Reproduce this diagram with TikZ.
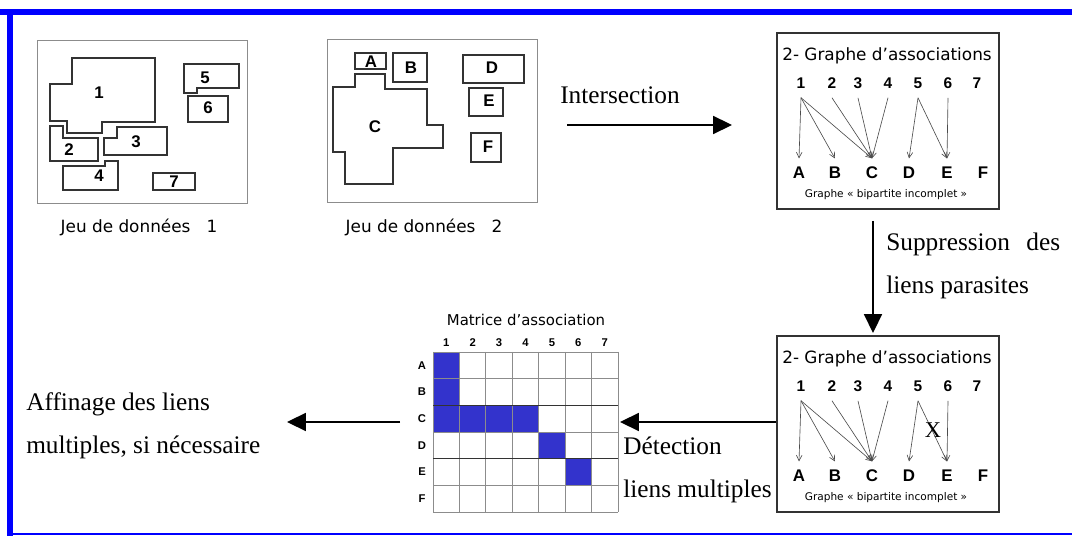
\documentclass[tikz,border=0pt]{standalone}
\usepackage{fontspec}
\setmainfont{Liberation Serif}
\newfontfamily\verdana{DejaVu Sans}
\newfontfamily\arial{Liberation Sans}
\usepackage{xcolor}
\usetikzlibrary{positioning,arrows.meta}
\definecolor{cadre}{RGB}{0,0,255}
\definecolor{matbleu}{RGB}{51,51,204}

\begin{document}
\begin{tikzpicture}[x=0.025cm,y=-0.025cm,
        lot/.style={draw=black!45,line width=0.7pt},
        poly/.style={draw=black!80,line width=0.9pt},
        lbl/.style={font=\arial\bfseries\fontsize{12}{14}\selectfont,inner sep=0pt},
        jeu/.style={font=\verdana\fontsize{12}{14}\selectfont,inner sep=0pt},
        grbox/.style={draw=black!80,line width=0.9pt},
        gtitre/.style={font=\verdana\fontsize{12}{14}\selectfont,inner sep=0pt},
        gsous/.style={font=\verdana\fontsize{7.5}{9}\selectfont,inner sep=0pt},
        gnum/.style={font=\arial\bfseries\fontsize{11}{13}\selectfont,inner sep=1pt},
        glet/.style={font=\arial\bfseries\fontsize{12}{14}\selectfont,inner sep=1pt},
        lien/.style={-{Straight Barb[length=4pt,width=4pt]},color=black!70,line width=0.45pt},
        fleche/.style={-{Triangle[length=0.47cm,width=0.45cm]},line width=1pt},
        texte/.style={font=\fontsize{18}{30.6}\selectfont,align=left,inner sep=0pt,anchor=west},
        mnum/.style={font=\arial\bfseries\fontsize{8}{9}\selectfont,inner sep=0pt},
        grille/.style={draw=black!45,line width=0.6pt}]

    \useasboundingbox (0,0) rectangle (1072,536);

    % Cadre bleu
    \fill[cadre] (0,9) rectangle (1072,15);
    \fill[cadre] (7,9) rectangle (13,536);
    \draw[cadre,line width=1pt] (7,534) -- (1072,534);

    % Jeu de donnees 1
    \draw[lot] (37,40) rectangle (247,203);
    \draw[poly] (72,58) -- (155,58) -- (155,122) -- (102,122) -- (102,133) -- (67,133) -- (67,121) -- (50,121) -- (50,84) -- (72,84) -- cycle;
    \draw[poly] (50,126) -- (63,126) -- (63,138) -- (98,138) -- (98,161) -- (50,161) -- cycle;
    \draw[poly] (117,127) -- (167,127) -- (167,155) -- (104,155) -- (104,138) -- (117,138) -- cycle;
    \draw[poly] (63,166) -- (105,166) -- (105,161) -- (118,161) -- (118,190) -- (63,190) -- cycle;
    \draw[poly] (184,64) -- (239,64) -- (239,88) -- (197,88) -- (197,93) -- (184,93) -- cycle;
    \draw[poly] (188,96) rectangle (228,122);
    \draw[poly] (153,173) rectangle (195,190);
    \foreach \o/\xo/\yo in {1/99/93,2/69/150,3/136/142,4/99/176,5/205/78,6/208/108,7/174/182}
        \node[lbl] (obj\o) at (\xo,\yo) {\o};
    \node[jeu] (jeu1) at (139,227) {Jeu de données\ \ \ 1};

    % Jeu de donnees 2
    \draw[lot] (327,39) rectangle (537,202);
    \draw[poly] (355,74) -- (385,74) -- (385,89) -- (427,89) -- (427,125) -- (443,125) -- (443,148) -- (393,148) -- (393,184) -- (345,184) -- (345,152) -- (333,152) -- (333,87) -- (355,87) -- cycle;
    \draw[poly] (355,53) rectangle (386,69);
    \draw[poly] (393,53) rectangle (427,82);
    \draw[poly] (463,55) rectangle (524,83);
    \draw[poly] (469,88) rectangle (503,116);
    \draw[poly] (471,133) rectangle (501,162);
    \foreach \o/\xo/\yo in {A/371/62,B/411/68,C/375/127,D/492/68,E/489/101,F/488/147}
        \node[lbl] (obj\o) at (\xo,\yo) {\o};
    \node[jeu] (jeu2) at (424,227) {Jeu de données\ \ \ 2};

    % Intersection
    \node[texte] (inter) at (560,95) {Intersection};
    \coordinate (inter-de) at (567,125);
    \coordinate (inter-a) at (732,125);
    \draw[fleche] (inter-de) -- (inter-a);

    % Graphes d'associations
    \foreach \g/\dy in {g1/0,g2/303}
        {
        \begin{scope}[shift={(0,\dy)}]
            \node[grbox,minimum width=5.55cm,minimum height=4.4cm] (\g-cadre) at (888,121) {};
            \node[gtitre] (\g-titre) at (887,56) {2- Graphe d’associations};
            \foreach \n/\xn in {1/801,2/832,3/858,4/888,5/918,6/948,7/977}
                \node[gnum] (\g-\n) at (\xn,83) {\n};
            \foreach \lt/\xl in {A/799,B/835,C/872,D/909,E/947,F/983}
                \node[glet] (\g-\lt) at (\xl,173) {\lt};
            \foreach \a/\b in {1/A,1/B,1/C,2/C,3/C,4/C,5/D,5/E,6/E}
                \draw[lien] ([yshift=-5.5pt]\g-\a.south) -- ([yshift=5pt]\g-\b.north);
            \node[gsous] (\g-sous) at (886,195) {Graphe « bipartite incomplet »};
        \end{scope}
        }
    \node[font=\fontsize{16}{18}\selectfont,inner sep=0pt] (croix) at (933,430) {X};

    % Suppression des liens parasites
    \coordinate (supp-de) at (873,221);
    \coordinate (supp-a) at (873,333);
    \draw[fleche] (supp-de) -- (supp-a);
    \node[texte] (suppr) at (886,265.5) {Suppression\hspace{0.65em}des\\liens parasites};

    % Matrice d'association
    \def\cw{26.43} \def\ch{26.67}
    \foreach \c/\r in {1/1,1/2,1/3,2/3,3/3,4/3,5/4,6/5}
        \fill[matbleu] ({433+(\c-1)*\cw},{352+(\r-1)*\ch}) rectangle +(\cw,\ch);
    \foreach \i in {0,...,7}
        \draw[grille] ({433+\i*\cw},352) -- +(0,160);
    \foreach \j in {0,1,3,5,6}
        \draw[grille] (433,{352+\j*\ch}) -- +(185,0);
    \foreach \j in {2,4}
        \draw[grille,draw=black!80] (433,{352+\j*\ch}) -- +(185,0);
    \foreach \c in {1,...,7}
        \node[mnum] (col\c) at ({433+(\c-0.5)*\cw},343) {\c};
    \foreach \r/\lt in {1/A,2/B,3/C,4/D,5/E,6/F}
        \node[mnum] (lig\lt) at (422,{352+(\r-0.5)*\ch}) {\lt};
    \node[font=\verdana\fontsize{10.6}{12}\selectfont,inner sep=0pt] (mtitre) at (526,320) {Matrice d’association};

    % Detection des liens multiples
    \coordinate (detect) at (620,422);
    \draw[fleche] (g2-cadre.west |- detect) -- (detect);
    \node[texte] (detec) at (623,470) {Détection\\liens multiples};

    % Affinage
    \coordinate (aff-de) at (400,422);
    \coordinate (aff-a) at (287,422);
    \draw[fleche] (aff-de) -- (aff-a);
    \node[texte] (affin) at (26,425.5) {Affinage des liens\\multiples, si nécessaire};

\end{tikzpicture}
\end{document}
